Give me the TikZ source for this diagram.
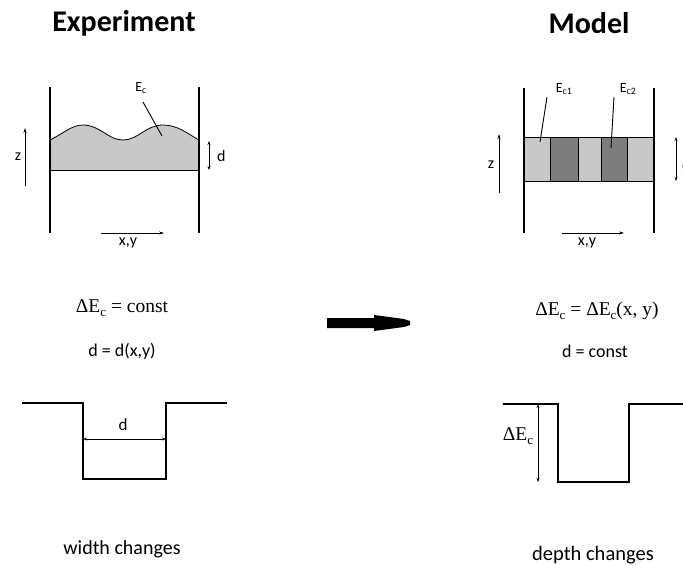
\documentclass[tikz,border=0pt]{standalone}
\usepackage[no-math]{fontspec}
\setmainfont{Carlito}
\newfontfamily\cambriaish{Liberation Serif}
\usetikzlibrary{arrows.meta}

\definecolor{lightgr}{RGB}{200,200,200}
\definecolor{darkgr}{RGB}{125,125,125}
\newcommand{\dEc}{ΔE\raisebox{-0.45ex}{\fontsize{13}{13}\selectfont c}}
\tikzset{
  wall/.style={black, line width=1.4pt},
  well/.style={black, line width=1.8pt},
  thin arrow/.style={black, line width=0.6pt, -{Stealth[length=5pt,width=3pt]}},
  both arrow/.style={black, line width=0.6pt, {Stealth[length=4pt,width=3pt]}-{Stealth[length=4pt,width=3pt]}},
  lbl/.style={inner sep=1pt, font=\fontsize{16}{18}\selectfont},
  small lbl/.style={inner sep=1pt, font=\fontsize{14}{16}\selectfont},
  formula/.style={inner sep=1pt, font=\fontsize{18}{22}\selectfont},
  serifeq/.style={inner sep=1pt, font=\fontsize{19.5}{24}\selectfont\cambriaish},
  title/.style={inner sep=1pt, font=\fontsize{30}{34}\selectfont\bfseries}
}

\begin{document}
\begin{tikzpicture}[x=1pt,y=-1pt]
  \useasboundingbox (0,0) rectangle (683,565);

  \node[title] (exptitle) at (124,23) {Experiment};
  \node[title] (modtitle) at (589,23) {Model};

  \path [fill=lightgr] (50,170) -- (50,140) .. controls (64,133) and (72,125) .. (83,125)
    .. controls (100,125) and (108,140) .. (123,140) .. controls (138,140) and (146,125) .. (163,125)
    .. controls (178,125) and (188,134) .. (199,140) -- (199,170) -- cycle;
  \draw [black, thick] (50,140) .. controls (64,133) and (72,125) .. (83,125)
    .. controls (100,125) and (108,140) .. (123,140) .. controls (138,140) and (146,125) .. (163,125)
    .. controls (178,125) and (188,134) .. (199,140);
  \draw [black, thick] (50,170) -- (199,170);
  \draw [wall] (50,87) -- (50,233);
  \draw [wall] (199,87) -- (199,233);
  \node[small lbl] (ec) at (141,88) {E\textsubscript{c}};
  \coordinate (ectip) at (162,136);
  \draw [black, line width=0.9pt] (143,102) -- (ectip);
  \coordinate (zlow) at (25,186);
  \coordinate (zhigh) at (25,128);
  \draw [thin arrow] (zlow) -- (zhigh);
  \node[lbl] (zleft) at (18,157) {z};
  \coordinate (dtop) at (209,141);
  \coordinate (dbot) at (209,170);
  \draw [both arrow] (dtop) -- (dbot);
  \node[lbl, anchor=west] (dleft) at (216,156) {d};
  \coordinate (xyfrom) at (101,233);
  \coordinate (xyto) at (164,233);
  \draw [thin arrow] (xyfrom) -- (xyto);
  \node[lbl] (xyleft) at (128,243) {x,y};

  \fill [lightgr] (524,137) rectangle (550,181);
  \fill [darkgr]  (550,137) rectangle (578,181);
  \fill [lightgr] (578,137) rectangle (601,181);
  \fill [darkgr]  (601,137) rectangle (627,181);
  \fill [lightgr] (627,137) rectangle (654,181);
  \draw [black, thick] (524,137) rectangle (654,181);
  \foreach \xx in {550,578,601,627}
    \draw [black, thick] (\xx,137) -- (\xx,181);
  \draw [wall] (524,88) -- (524,233);
  \draw [wall] (654,88) -- (654,233);
  \node[small lbl] (econe) at (564,89) {E\textsubscript{c1}};
  \node[small lbl] (ectwo) at (628,89) {E\textsubscript{c2}};
  \coordinate (ec1tip) at (540,142);
  \coordinate (ec2tip) at (611,148);
  \draw [black, line width=0.9pt] (547,97) -- (ec1tip);
  \draw [black, line width=0.9pt] (614,97) -- (ec2tip);
  \coordinate (zlowr) at (499,193);
  \coordinate (zhighr) at (499,134);
  \draw [thin arrow] (zlowr) -- (zhighr);
  \node[lbl] (zright) at (491,165) {z};
  \coordinate (dtopr) at (676,137);
  \coordinate (dbotr) at (676,181);
  \draw [both arrow] (dtopr) -- (dbotr);
  \node[lbl, anchor=west] (dright) at (681,165) {d};
  \coordinate (xyfromr) at (562,233);
  \coordinate (xytor) at (624,233);
  \draw [thin arrow] (xyfromr) -- (xytor);
  \node[lbl] (xyright) at (587,243) {x,y};

  \node[serifeq] (formA) at (122,308) {\dEc{} = const};
  \node[formula] (formB) at (122,351) {d = d(x,y)};
  \node[serifeq] (formC) at (597,311) {\dEc{} = \dEc(x, y)};
  \node[formula] (formD) at (595,351) {d = const};

  \fill [black] (327,318) -- (374,318) -- (374,315) -- (404,319) -- (410,321) -- (410,325)
    -- (404,327) -- (374,331) -- (374,328) -- (327,328) -- cycle;

  \draw [well] (22,403) -- (83,403) -- (83,479) -- (166,479) -- (166,403) -- (227,403);
  \coordinate (wl) at (83,439);
  \coordinate (wr) at (166,439);
  \draw [both arrow] (wl) -- (wr);
  \node[lbl, font=\fontsize{17}{20}\selectfont] (dwell) at (123,425) {d};

  \draw [well] (503,404) -- (558,404) -- (558,482) -- (629,482) -- (629,404) -- (683,404);
  \coordinate (dt) at (538,404);
  \coordinate (db) at (538,482);
  \draw [both arrow] (dt) -- (db);
  \node[serifeq] (dewell) at (518,436) {\dEc};

  \node[formula, font=\fontsize{20}{24}\selectfont] (widthtxt) at (122,549) {width changes};
  \node[formula, font=\fontsize{20.5}{24}\selectfont] (depthtxt) at (593,555) {depth changes};
\end{tikzpicture}
\end{document}
